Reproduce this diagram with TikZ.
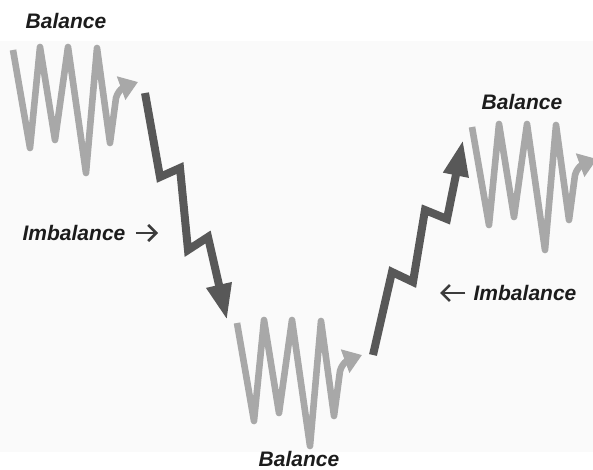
\documentclass[tikz,border=0pt]{standalone}
\usepackage{fontspec}
\setmainfont{Liberation Sans}
\usepackage{tikz}
\usetikzlibrary{arrows.meta, positioning}
\definecolor{wavegray}{RGB}{168,168,168}
\definecolor{stepdark}{RGB}{88,88,88}
\definecolor{labeldark}{RGB}{28,28,28}
\definecolor{hintdark}{RGB}{60,60,60}
\definecolor{bgpale}{RGB}{250,250,250}
\tikzset{
  wave/.style={draw=wavegray, line width=3.3pt, line join=round,
    -{Triangle[length=9pt, width=12pt]}},
  stepline/.style={draw=stepdark, line width=4pt, line join=miter,
    -{Triangle[length=18pt, width=12pt]}},
  label/.style={font=\fontsize{10.5}{12}\selectfont\bfseries\itshape,
    text=labeldark, inner sep=1pt},
  pointer/.style={draw=hintdark, line width=1.3pt,
    -{Straight Barb[length=4pt, width=8pt]}}
}
\begin{document}
\begin{tikzpicture}[x=0.5pt, y=-0.5pt]
  \useasboundingbox (0,0) rectangle (593,470);
  \fill[bgpale] (0,41) rectangle (593,452);

  % balance waves
  \foreach \dx/\dy in {0/0, 224/273, 459/77} {
    \begin{scope}[shift={(\dx,\dy)}]
      \draw[wave] (13,50) -- (30,148) -- (40,47) -- (55,140) -- (68,47)
        -- (86,173) -- (97,48) -- (110,143) -- (116,98)
        to[out=75, in=200] (138,82);
    \end{scope}
  }

  % imbalance steps
  \draw[stepline] (145,93) -- (160,177) -- (180,168) -- (188,250)
    -- (208,237) -- (227,320);
  \draw[stepline] (373,355) -- (392,272) -- (413,282) -- (425,210)
    -- (447,219) -- (463,140);

  % labels
  \node[label] (balA) at (66,21) {Balance};
  \node[label] (balB) at (299,459) {Balance};
  \node[label] (balC) at (522,102) {Balance};
  \node[label] (imbA) at (74,233) {Imbalance};
  \node[label] (imbB) at (525,293) {Imbalance};
  \coordinate (imbAend) at (158,233);
  \coordinate (imbBend) at (440,293);
  \draw[pointer] ([xshift=4pt]imbA.east) -- (imbAend);
  \draw[pointer] ([xshift=-3pt]imbB.west) -- (imbBend);
\end{tikzpicture}
\end{document}
